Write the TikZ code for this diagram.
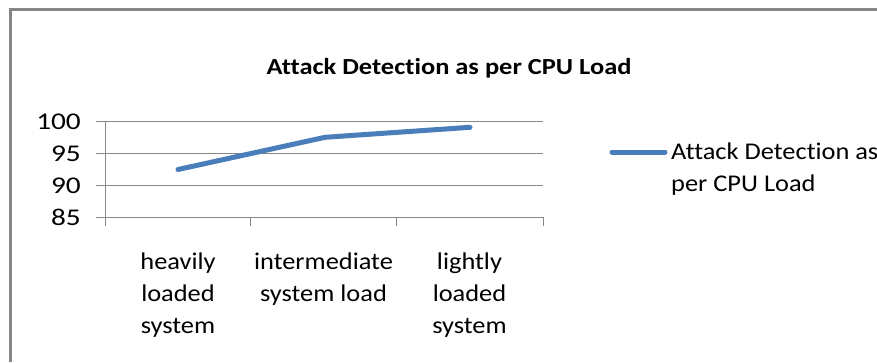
\documentclass[tikz,border=0pt]{standalone}
\usepackage{fontspec}
\setmainfont{Carlito}[FakeStretch=1.10, Ligatures=NoCommon]
\newfontfamily\ylabfont{Carlito}[FakeStretch=1.22, Ligatures=NoCommon]
\newfontfamily\titlefont{Carlito}[FakeStretch=1.15, Ligatures=NoCommon]
\begin{document}
\begin{tikzpicture}[x=1pt,y=-1pt,
  gridline/.style={draw=gridgray, line width=1pt},
  series/.style={draw=seriesblue, line width=5pt, line cap=round, line join=round},
  ylab/.style={anchor=east, inner sep=0pt, font=\ylabfont\fontsize{24}{32}\selectfont},
  catlab/.style={anchor=north, inner sep=0pt, align=center, font=\fontsize{24}{32}\selectfont},
  legtext/.style={anchor=north west, inner sep=0pt, align=left, font=\fontsize{24}{32}\selectfont},
  titlestyle/.style={inner sep=0pt, font=\titlefont\bfseries\fontsize{23}{28}\selectfont}]
\definecolor{seriesblue}{HTML}{4A7EBB}
\definecolor{gridgray}{HTML}{868686}
\useasboundingbox (0,0) rectangle (877,362);
\fill[white] (0,0) rectangle (877,362);
% frame
\draw[draw=gridgray, line width=3pt] (10,362) -- (10,9) -- (877,9);
% title
\node[titlestyle] (title) at (449,68) {Attack Detection as per CPU Load};
% gridlines
\foreach \v/\yy in {100/121.7,95/153.3,90/185.7,85/217.3}{
  \draw[gridline] (96,\yy) -- (543,\yy);
  \node[ylab] (y\v) at (81,\yy) {\v};
}
% axes
\draw[gridline] (105,121.7) -- (105,225.7);
\foreach \xx in {250.7,396,543}{
  \draw[gridline] (\xx,217.3) -- (\xx,225.7);
}
% categories
\node[catlab] (c1) at (178,253) {heavily\\loaded\\system};
\node[catlab] (c2) at (323.5,253) {intermediate\\system load};
\node[catlab] (c3) at (469.5,253) {lightly\\loaded\\system};
% data
\coordinate (p1) at (178,169.5);
\coordinate (p2) at (325,137.3);
\coordinate (p3) at (470,127.3);
\draw[series] (p1) -- (p2) -- (p3);
% legend
\coordinate (l1) at (612,152);
\coordinate (l2) at (665,152);
\draw[series] (l1) -- (l2);
\node[legtext] (leg) at (671,143) {Attack Detection as\\per CPU Load};
\end{tikzpicture}
\end{document}
